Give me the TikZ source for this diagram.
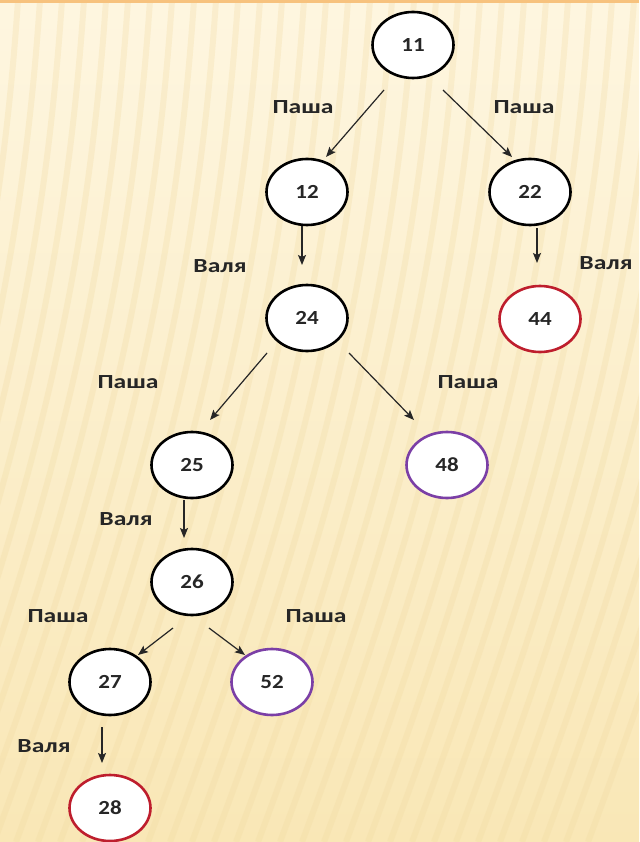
\documentclass[tikz,border=0pt]{standalone}
\usepackage{fontspec}
\setmainfont{Carlito}
\usetikzlibrary{shapes.geometric,arrows.meta,calc}
\definecolor{bgtop}{HTML}{FEF6E0}
\definecolor{bgbot}{HTML}{F9E7B6}
\definecolor{stripe}{HTML}{F0D9A0}
\definecolor{band}{HTML}{F7C27E}
\definecolor{ink}{HTML}{262626}
\definecolor{redring}{HTML}{BE1E2D}
\definecolor{purplering}{HTML}{7B3FA6}
\tikzset{
  state/.style={ellipse, draw=black, line width=2.6pt, fill=white,
    minimum width=81pt, minimum height=66pt, inner sep=0pt,
    font=\fontsize{20}{20}\selectfont\bfseries, text=ink},
  redstate/.style={state, draw=redring},
  purplestate/.style={state, draw=purplering},
  arr/.style={draw=ink, line width=1.2pt, -{Stealth[length=10pt,width=8pt,inset=2pt]}},
  move/.style={font=\fontsize{20}{20}\selectfont\bfseries, text=ink, inner sep=0pt}
}
\newcommand{\wide}[1]{\scalebox{1.15}[1]{#1}}
\newcommand{\wider}[1]{\scalebox{1.28}[1]{#1}}
\begin{document}
\begin{tikzpicture}[x=1pt,y=-1pt]
  % background
  \useasboundingbox (0,0) rectangle (639,842);
  \shade[top color=bgtop, bottom color=bgbot] (0,0) rectangle (639,842);
  \begin{scope}
    \clip (0,0) rectangle (639,842);
    \foreach \k in {-20,...,34} {
      \draw[stripe, line width=6pt, opacity=0.28]
        (\k*22-160,842) .. controls (\k*22-40,520) and (\k*22+20,300) .. (\k*22+40,0);
    }
  \end{scope}
  \fill[band] (0,0) rectangle (639,3);

  % states
  \node[state]       (n11) at (413,45)  {\wide{11}};
  \node[state]       (n12) at (307,192) {\wide{12}};
  \node[state]       (n22) at (530,192) {\wide{22}};
  \node[state]       (n24) at (307,318) {\wide{24}};
  \node[redstate]    (n44) at (540,319) {\wide{44}};
  \node[state]       (n25) at (192,465) {\wide{25}};
  \node[purplestate] (n48) at (447,465) {\wide{48}};
  \node[state]       (n26) at (192,582) {\wide{26}};
  \node[state]       (n27) at (110,682) {\wide{27}};
  \node[purplestate] (n52) at (272,682) {\wide{52}};
  \node[redstate]    (n28) at (110,808) {\wide{28}};

  % moves
  \draw[arr] ($(n11)+(-29,45)$) -- ($(n12)+(19,-35)$);
  \draw[arr] ($(n11)+(30,45)$)  -- ($(n22)+(-18,-35)$);
  \draw[arr] ($(n12)+(-5,34)$)  -- ($(n24)+(-5,-53)$);
  \draw[arr] ($(n22)+(7,36)$)   -- ($(n44)+(-3,-56)$);
  \draw[arr] ($(n24)+(-40,35)$) -- ($(n25)+(18,-45)$);
  \draw[arr] ($(n24)+(42,35)$)  -- ($(n48)+(-33,-45)$);
  \draw[arr] ($(n25)+(-8,35)$)  -- ($(n26)+(-8,-44)$);
  \draw[arr] ($(n26)+(-19,46)$) -- ($(n27)+(28,-27)$);
  \draw[arr] ($(n26)+(17,46)$)  -- ($(n52)+(-27,-27)$);
  \draw[arr] ($(n27)+(-8,45)$)  -- ($(n28)+(-8,-45)$);

  % move labels
  \node[move] (l1)  at (303,107) {\wider{Паша}};
  \node[move] (l2)  at (524,107) {\wider{Паша}};
  \node[move] (l3)  at (220,266) {\wider{Валя}};
  \node[move] (l4)  at (606,263) {\wider{Валя}};
  \node[move] (l5)  at (128,382) {\wider{Паша}};
  \node[move] (l6)  at (468,382) {\wider{Паша}};
  \node[move] (l7)  at (126,519) {\wider{Валя}};
  \node[move] (l8)  at (58,616)  {\wider{Паша}};
  \node[move] (l9)  at (316,616) {\wider{Паша}};
  \node[move] (l10) at (44,746)  {\wider{Валя}};
\end{tikzpicture}
\end{document}
